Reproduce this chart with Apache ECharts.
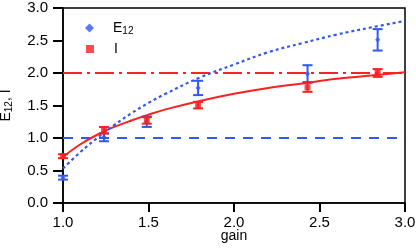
<!DOCTYPE html>
<html>
<head>
<meta charset="utf-8">
<script src="https://cdn.jsdelivr.net/npm/echarts@6/dist/echarts.min.js"></script>
<style>html,body{margin:0;padding:0;background:#fff}#c{width:416px;height:248px}</style>
</head>
<body>
<div id="c"></div>
<script>
// ---- data ----
const gain = [1.0, 1.24, 1.49, 1.79, 2.43, 2.84];
const E12 = [0.39, 1.01, 1.25, 1.77, 1.99, 2.51];
const E12err = [0.03, 0.06, 0.08, 0.11, 0.13, 0.165];
const I = [0.72, 1.12, 1.27, 1.505, 1.78, 2.00];
const Ierr = [0.03, 0.05, 0.05, 0.05, 0.07, 0.06];
const fitGain = [1.0, 1.1, 1.2, 1.3, 1.4, 1.5, 1.6, 1.8, 2.0, 2.2, 2.4, 2.6, 2.8, 3.0];
const fitI = [0.71, 0.90, 1.05, 1.17, 1.27, 1.36, 1.44, 1.57, 1.68, 1.77, 1.84, 1.91, 1.96, 2.01];
const fitE12 = [0.53, 0.78, 1.00, 1.20, 1.38, 1.54, 1.68, 1.93, 2.13, 2.32, 2.46, 2.59, 2.70, 2.80];
const limitE12 = 1.0;
const limitI = 2.0;
const xRange = [1.0, 3.0];
const yRange = [0.0, 3.0];

const BLUE = '#3159f2';
const RED = '#f82222';
const FONT = 'Liberation Sans, Arial, sans-serif';

function zip(a, b, c) { return a.map((v, i) => c ? [v, b[i], c[i]] : [v, b[i]]); }

function errBar(color) {
  return function (params, api) {
    const x = api.value(0), y = api.value(1), e = api.value(2);
    const t = api.coord([x, y + e]);
    const b = api.coord([x, y - e]);
    const hw = 5;
    const st = { stroke: color, lineWidth: 2 };
    return {
      type: 'group', children: [
        { type: 'line', shape: { x1: t[0], y1: t[1], x2: b[0], y2: b[1] }, style: st },
        { type: 'line', shape: { x1: t[0] - hw, y1: t[1], x2: t[0] + hw, y2: t[1] }, style: st },
        { type: 'line', shape: { x1: b[0] - hw, y1: b[1], x2: b[0] + hw, y2: b[1] }, style: st }
      ]
    };
  };
}

const richTxt = {
  m: { fontSize: 14, fontFamily: FONT, color: '#000', lineHeight: 17 },
  s: { fontSize: 10, fontFamily: FONT, color: '#000', padding: [6, 0, 0, 0], lineHeight: 17 }
};

const chart = echarts.init(document.getElementById('c'), null, { renderer: 'canvas' });
chart.setOption({
  animation: false,
  backgroundColor: '#fff',
  grid: { left: 63, right: 11, top: 8, bottom: 45, containLabel: false, outerBoundsMode: 'none',
    show: true, borderColor: '#000', borderWidth: 1.5, backgroundColor: 'transparent' },
  legend: [
    { data: [{ name: 'E12', icon: 'diamond' }], left: 80, top: 15, itemWidth: 9, itemHeight: 9, itemGap: 0,
      formatter: () => '{p|}{m|E}{s|12}',
      textStyle: { rich: Object.assign({ p: { width: 14 } }, richTxt) } },
    { data: [{ name: 'I', icon: 'rect' }], left: 81, top: 37, itemWidth: 8, itemHeight: 8, itemGap: 0,
      formatter: () => '{p|}{m|I}',
      textStyle: { rich: Object.assign({ p: { width: 15 } }, richTxt) } }
  ],
  xAxis: {
    type: 'value', min: xRange[0], max: xRange[1], interval: 0.5,
    name: 'gain', nameLocation: 'middle', nameGap: 26, nameMoveOverlap: false,
    nameTextStyle: { fontSize: 14, fontFamily: FONT, color: '#000' },
    axisLine: { show: true, onZero: false, lineStyle: { color: '#000', width: 1.5 } },
    axisTick: { show: true, inside: false, length: 9, lineStyle: { color: '#000', width: 2 } },
    axisLabel: { margin: 12, fontSize: 15, fontFamily: FONT, color: '#000', formatter: v => v.toFixed(1) },
    splitLine: { show: false }
  },
  yAxis: {
    type: 'value', min: yRange[0], max: yRange[1], interval: 0.5,
    name: '{m|E}{s|12}{m|, I}', nameLocation: 'middle', nameGap: 48, nameRotate: 90, nameMoveOverlap: false,
    nameTextStyle: { rich: richTxt },
    axisLine: { show: true, onZero: false, lineStyle: { color: '#000', width: 1.5 } },
    axisTick: { show: true, inside: false, length: 10, lineStyle: { color: '#000', width: 2 } },
    axisLabel: { margin: 15, fontSize: 15, fontFamily: FONT, color: '#000', formatter: v => v.toFixed(1) },
    splitLine: { show: false }
  },
  series: [
    { type: 'line', name: 'limE', data: [[xRange[0], limitE12], [xRange[1], limitE12]], symbol: 'none',
      lineStyle: { color: BLUE, width: 2, type: [10, 8] }, z: 2 },
    { type: 'line', name: 'limI', data: [[xRange[0], limitI], [xRange[1], limitI]], symbol: 'none',
      lineStyle: { color: RED, width: 2, type: [19, 5, 3, 5] }, z: 2 },
    { type: 'line', name: 'fitI', data: zip(fitGain, fitI), symbol: 'none', smooth: 0.4,
      lineStyle: { color: RED, width: 2 }, z: 3 },
    { type: 'line', name: 'fitE', data: zip(fitGain, fitE12), symbol: 'none', smooth: 0.4,
      lineStyle: { color: BLUE, width: 2.2, type: [3, 3] }, z: 3 },
    { type: 'custom', name: 'errE', renderItem: errBar(BLUE), data: zip(gain, E12, E12err),
      encode: { x: 0, y: 1 }, z: 4 },
    { type: 'custom', name: 'errI', renderItem: errBar(RED), data: zip(gain, I, Ierr),
      encode: { x: 0, y: 1 }, z: 4 },
    { type: 'scatter', name: 'E12', data: zip(gain, E12), symbol: 'diamond', symbolSize: [5, 6],
      itemStyle: { color: BLUE }, z: 5 },
    { type: 'scatter', name: 'I', data: zip(gain, I), symbol: 'rect', symbolSize: 6,
      itemStyle: { color: RED }, z: 5 }
  ]
});
</script>
</body>
</html>
